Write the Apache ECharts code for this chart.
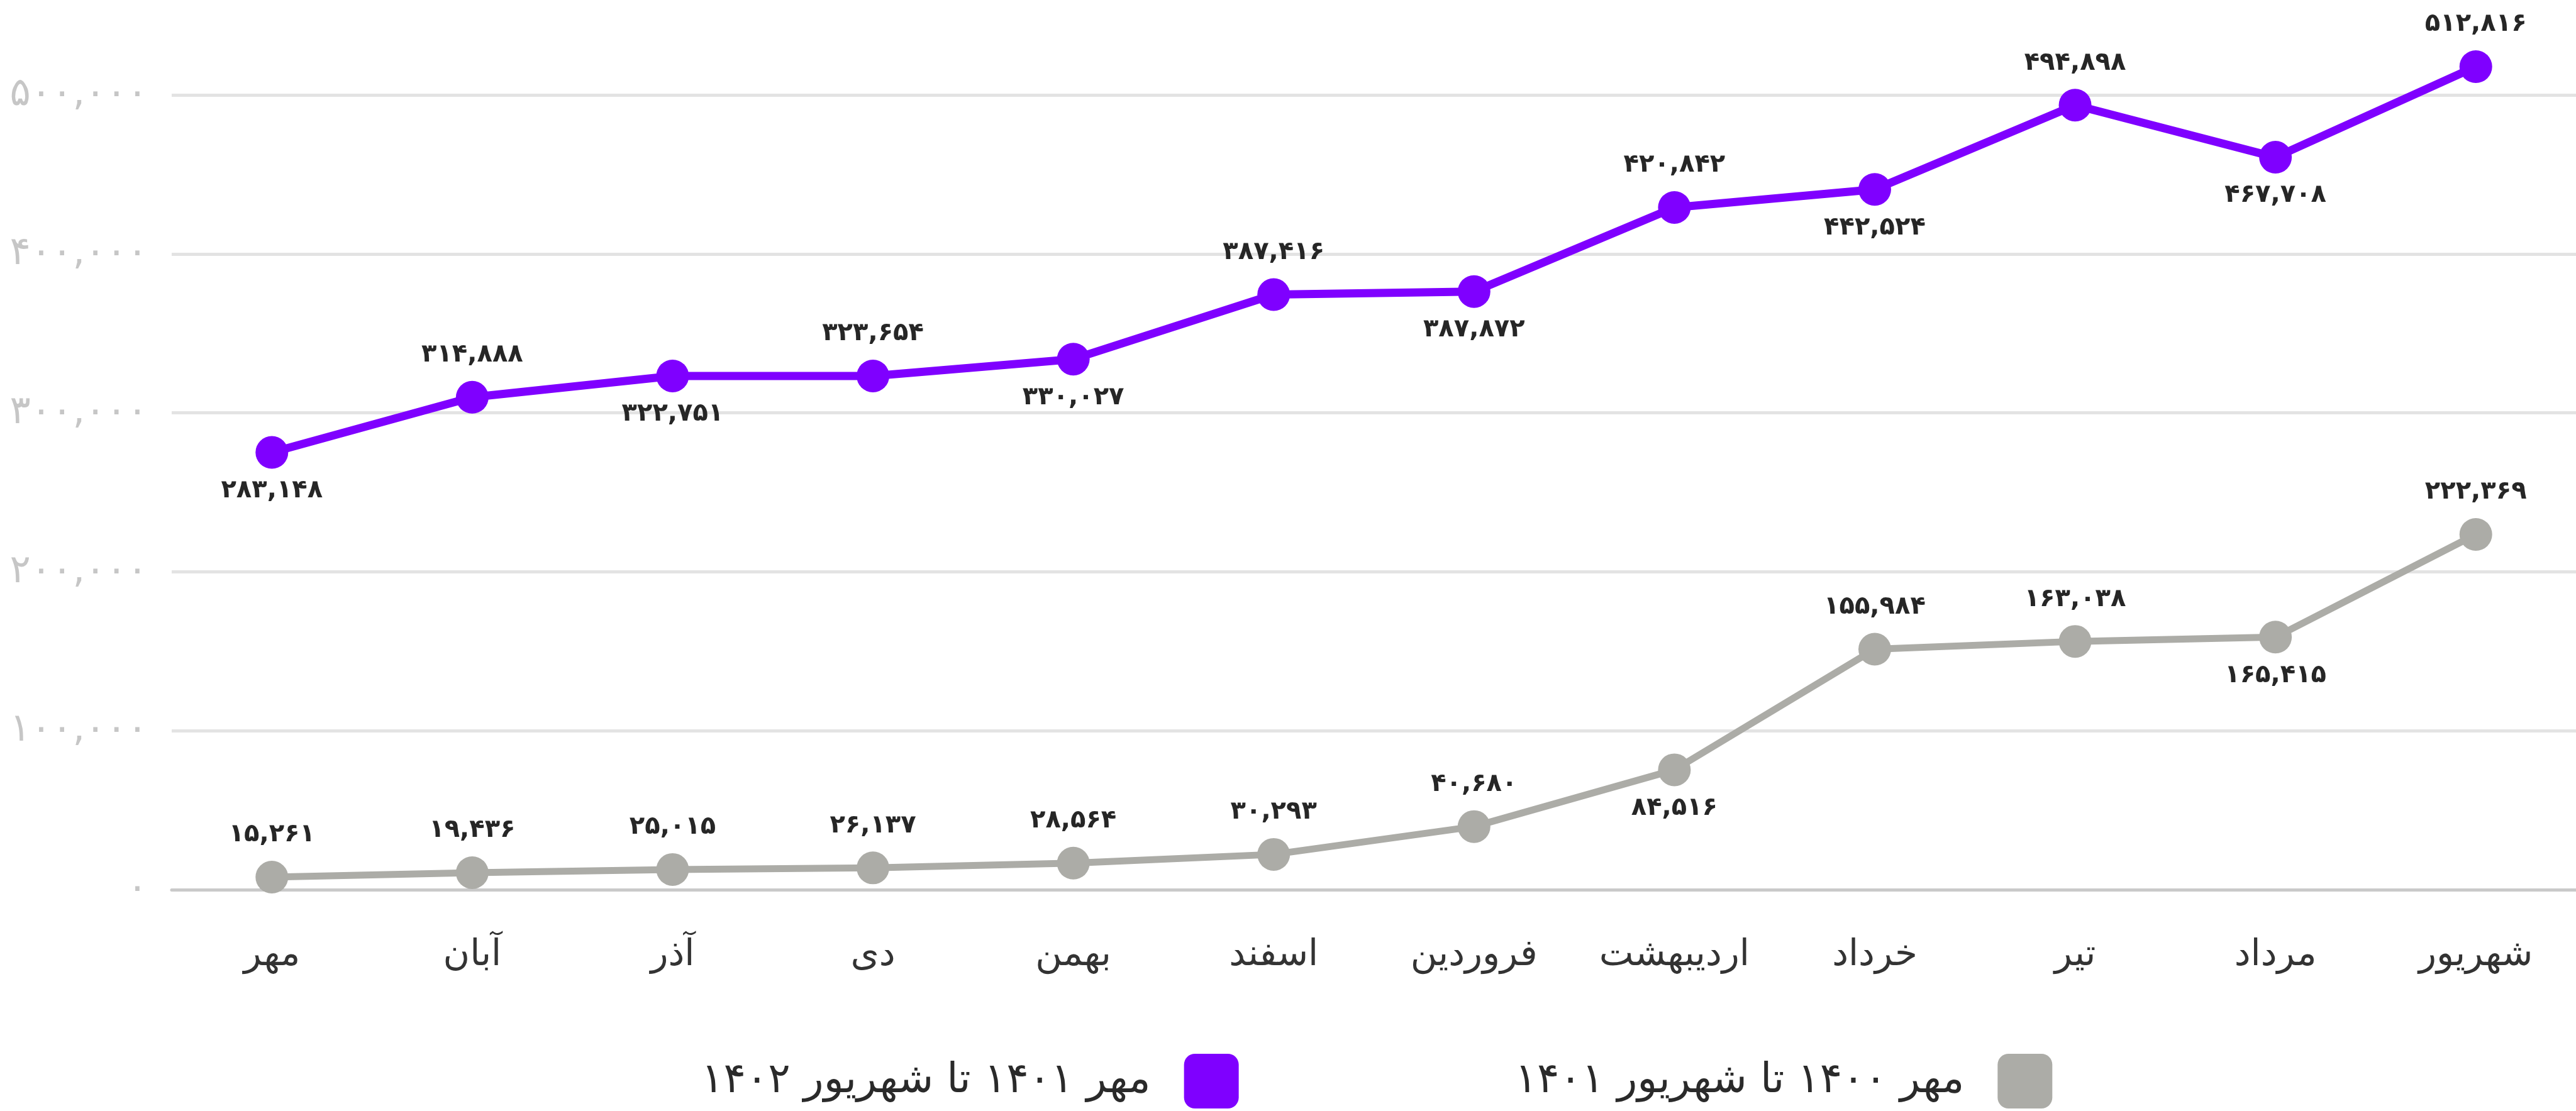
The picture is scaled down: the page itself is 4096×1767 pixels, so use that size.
<!DOCTYPE html>
<html><head><meta charset="utf-8">
<script src="https://cdn.jsdelivr.net/npm/echarts@6/dist/echarts.min.js"></script>
<style>html,body{margin:0;padding:0;background:#fff;} #c{width:4096px;height:1767px;}</style>
</head><body><div id="c"></div>
<script>
const months = ['مهر','آبان','آذر','دی','بهمن','اسفند','فروردین','اردیبهشت','خرداد','تیر','مرداد','شهریور'];
const seriesNames = ['مهر ۱۴۰۰ تا شهریور ۱۴۰۱','مهر ۱۴۰۱ تا شهریور ۱۴۰۲'];
const grayValues = [7900,10700,12700,13700,16700,22200,39700,75400,151300,156200,158900,223500];
const purpleValues = [275100,309800,323200,323200,333800,374400,376300,429200,440600,493600,460800,517800];
const grayLabels = ['۱۵,۲۶۱','۱۹,۴۳۶','۲۵,۰۱۵','۲۶,۱۳۷','۲۸,۵۶۴','۳۰,۲۹۳','۴۰,۶۸۰','۸۴,۵۱۶','۱۵۵,۹۸۴','۱۶۳,۰۳۸','۱۶۵,۴۱۵','۲۲۲,۳۶۹'];
const purpleLabels = ['۲۸۳,۱۴۸','۳۱۴,۸۸۸','۳۲۲,۷۵۱','۳۲۳,۶۵۴','۳۳۰,۰۲۷','۳۸۷,۴۱۶','۳۸۷,۸۷۲','۴۲۰,۸۴۲','۴۴۲,۵۲۴','۴۹۴,۸۹۸','۴۶۷,۷۰۸','۵۱۲,۸۱۶'];
const graySide = ['top','top','top','top','top','top','top','bottom','top','top','bottom','top'];
const purpleSide = ['bottom','top','bottom','top','bottom','top','bottom','top','bottom','top','bottom','top'];
const yTickLabels = ['۰','۱۰۰,۰۰۰','۲۰۰,۰۰۰','۳۰۰,۰۰۰','۴۰۰,۰۰۰','۵۰۰,۰۰۰'];

const FONT = 'DejaVu Sans';
const PURPLE = '#7f00ff';
const GRAY = '#acaca7';

function build(values, labels, sides) {
  return values.map((v, i) => ({
    value: v,
    label: { position: sides[i], distance: sides[i] === 'top' ? 21 : 15, formatter: labels[i] }
  }));
}

const chart = echarts.init(document.getElementById('c'), null, { renderer: 'canvas' });
const labelStyle = { show: true, color: '#262626', fontFamily: FONT, fontSize: 40, fontWeight: 'bold' };
chart.setOption({
  backgroundColor: '#ffffff',
  animation: false,
  grid: { left: 273, right: 0, top: 151, bottom: 352, containLabel: false },
  legend: {
    data: [seriesNames[1], seriesNames[0]],
    left: 1115, top: 1676,
    align: 'right',
    icon: 'path://M2,0H8A2,2 0 0 1 10,2V8A2,2 0 0 1 8,10H2A2,2 0 0 1 0,8V2A2,2 0 0 1 2,0Z',
    itemWidth: 87, itemHeight: 87,
    itemGap: 439,
    padding: 0,
    textStyle: { fontFamily: FONT, fontSize: 66, color: '#2a2a2a', padding: [0, 48, 0, 0] }
  },
  xAxis: {
    type: 'category',
    data: months,
    boundaryGap: true,
    axisLine: { show: true, lineStyle: { color: '#c9c9c9', width: 5 } },
    axisTick: { show: false },
    axisLabel: { fontFamily: FONT, fontSize: 58, color: '#333333', margin: 76, interval: 0 },
    splitLine: { show: false }
  },
  yAxis: {
    type: 'value',
    min: 0, max: 500000, interval: 100000,
    axisLine: { show: false },
    axisTick: { show: false },
    axisLabel: {
      fontFamily: FONT, fontSize: 62, color: '#c6c6c6', margin: 38,
      formatter: v => yTickLabels[Math.round(v / 100000)]
    },
    splitLine: { show: true, lineStyle: { color: '#e3e3e3', width: 5 } }
  },
  series: [
    {
      name: seriesNames[0], type: 'line', data: build(grayValues, grayLabels, graySide),
      symbol: 'circle', symbolSize: 52, clip: false,
      itemStyle: { color: GRAY }, lineStyle: { color: GRAY, width: 11 },
      label: labelStyle, z: 2
    },
    {
      name: seriesNames[1], type: 'line', data: build(purpleValues, purpleLabels, purpleSide),
      symbol: 'circle', symbolSize: 52, clip: false,
      itemStyle: { color: PURPLE }, lineStyle: { color: PURPLE, width: 13 },
      label: labelStyle, z: 3
    }
  ]
});
</script></body></html>
